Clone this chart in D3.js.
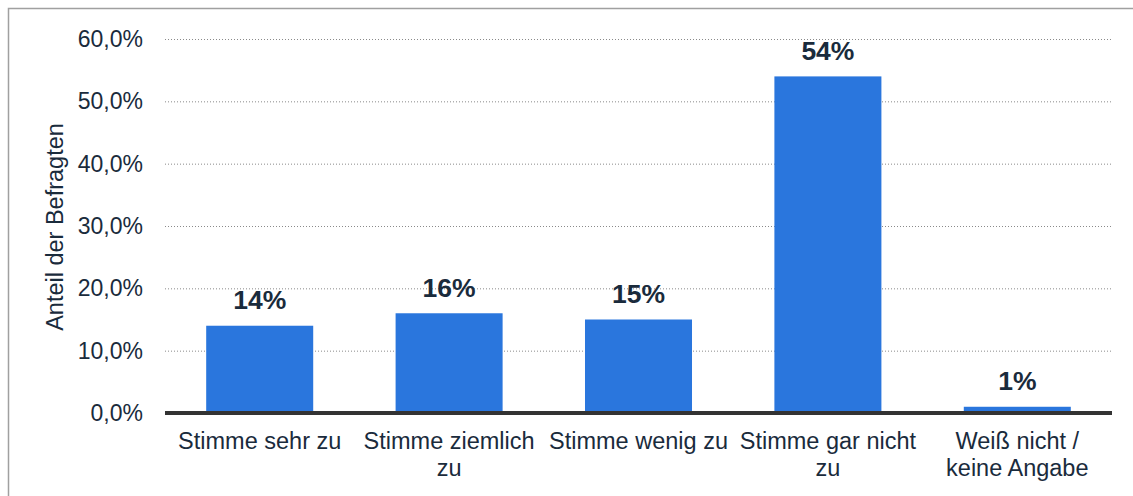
<!DOCTYPE html>
<html>
<head>
<meta charset="utf-8">
<script src="https://cdn.jsdelivr.net/npm/d3@7"></script>
<style>
  body { margin: 0; background: #fff; }
  text { font-family: "Liberation Sans", Arial, sans-serif; }
</style>
</head>
<body>
<div id="chart"></div>
<script>
const WIDTH = 1133
const HEIGHT = 496

const categories = [
  ["Stimme sehr zu"],
  ["Stimme ziemlich", "zu"],
  ["Stimme wenig zu"],
  ["Stimme gar nicht", "zu"],
  ["Weiß nicht /", "keine Angabe"]
]
const values = [14, 16, 15, 54, 1]
const valueLabels = ["14%", "16%", "15%", "54%", "1%"]
const yTicks = [0, 10, 20, 30, 40, 50, 60]

const TEXT_COLOR = "#1a2b3c"
const BAR_COLOR = "#2a76dd"

const margin = { left: 165, right: 21, top: 39, bottom: 83 }

const svg = d3.select("#chart")
  .append("svg")
  .attr("width", WIDTH)
  .attr("height", HEIGHT)

// frame (only top and left edges visible)
svg.append("rect")
  .attr("x", 8.5)
  .attr("y", 8.5)
  .attr("width", WIDTH + 20)
  .attr("height", HEIGHT + 20)
  .attr("fill", "none")
  .attr("stroke", "#a0a0a0")
  .attr("stroke-width", 1.5)

const x = d3.scaleBand()
  .domain(d3.range(categories.length))
  .range([margin.left, WIDTH - margin.right])
  .paddingInner(0.435)
  .paddingOuter(0.2175)

const y = d3.scaleLinear()
  .domain([0, 60])
  .range([HEIGHT - margin.bottom, margin.top])

// gridlines
svg.append("g")
  .selectAll("line")
  .data(yTicks.filter(d => d > 0))
  .join("line")
  .attr("x1", margin.left)
  .attr("x2", WIDTH - margin.right)
  .attr("y1", d => y(d) + 0.5)
  .attr("y2", d => y(d) + 0.5)
  .attr("stroke", "#8a8a8a")
  .attr("stroke-width", 1)
  .attr("stroke-dasharray", "1,2")

// y tick labels
svg.append("g")
  .selectAll("text")
  .data(yTicks)
  .join("text")
  .attr("x", 143)
  .attr("y", d => y(d))
  .attr("dy", "0.35em")
  .attr("text-anchor", "end")
  .attr("font-size", 23)
  .attr("fill", TEXT_COLOR)
  .text(d => d.toFixed(1).replace(".", ",") + "%")

// y axis title
svg.append("text")
  .attr("transform", "translate(63,227) rotate(-90)")
  .attr("text-anchor", "middle")
  .attr("font-size", 23.5)
  .attr("fill", TEXT_COLOR)
  .text("Anteil der Befragten")

// bars
svg.append("g")
  .selectAll("rect")
  .data(values)
  .join("rect")
  .attr("x", (d, i) => x(i))
  .attr("width", x.bandwidth())
  .attr("y", d => y(d))
  .attr("height", d => y(0) - y(d))
  .attr("fill", BAR_COLOR)

// value labels
svg.append("g")
  .selectAll("text")
  .data(values)
  .join("text")
  .attr("x", (d, i) => x(i) + x.bandwidth() / 2)
  .attr("y", d => y(d) - 16.5)
  .attr("text-anchor", "middle")
  .attr("font-size", 26.5)
  .attr("font-weight", "bold")
  .attr("fill", TEXT_COLOR)
  .text((d, i) => valueLabels[i])

// baseline
svg.append("line")
  .attr("x1", margin.left)
  .attr("x2", WIDTH - margin.right)
  .attr("y1", y(0))
  .attr("y2", y(0))
  .attr("stroke", "#333")
  .attr("stroke-width", 4)

// category labels
const catLabels = svg.append("g")
  .selectAll("text")
  .data(categories)
  .join("text")
  .attr("x", (d, i) => x(i) + x.bandwidth() / 2)
  .attr("y", 449)
  .attr("text-anchor", "middle")
  .attr("font-size", 23.5)
  .attr("fill", TEXT_COLOR)

catLabels.selectAll("tspan")
  .data(d => d)
  .join("tspan")
  .attr("x", function() { return this.parentNode.getAttribute("x") })
  .attr("dy", (d, i) => i === 0 ? 0 : 27)
  .text(d => d)
</script>
</body>
</html>
